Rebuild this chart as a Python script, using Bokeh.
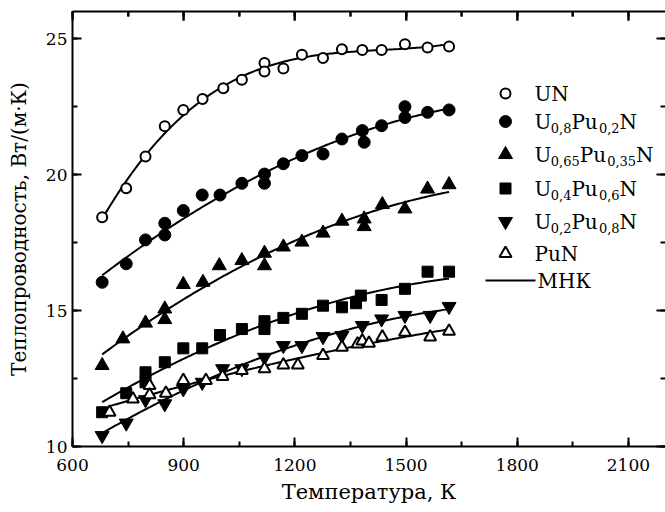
import numpy as np
from bokeh.plotting import figure
from bokeh.models import LinearAxis, SingleIntervalTicker, Range1d, ColumnDataSource, CustomJSTickFormatter
from bokeh.embed import file_html
from bokeh.resources import INLINE
from bokeh.core.properties import value

FONT = "DejaVu Serif"

# ---------------- data ----------------
UN_T = [680, 745, 797, 849, 899, 951, 1007, 1057, 1118, 1118, 1169, 1219, 1276, 1327, 1382, 1434, 1497, 1558, 1616]
UN_K = [18.43, 19.50, 20.67, 21.78, 22.38, 22.78, 23.18, 23.49, 24.11, 23.79, 23.90, 24.41, 24.29, 24.61, 24.58, 24.58, 24.80, 24.68, 24.71]

U08_T = [680, 745, 797, 849, 849, 899, 950, 998, 1057, 1118, 1118, 1169, 1219, 1276, 1327, 1382, 1387, 1434, 1497, 1497, 1558, 1616]
U08_K = [16.04, 16.72, 17.60, 18.21, 17.78, 18.68, 19.25, 19.25, 19.68, 20.02, 19.68, 20.40, 20.70, 20.76, 21.31, 21.62, 21.19, 21.80, 22.50, 22.10, 22.29, 22.38]

U065_T = [680, 736, 797, 849, 849, 899, 952, 996, 1057, 1118, 1118, 1169, 1219, 1276, 1327, 1387, 1387, 1436, 1497, 1558, 1616]
U065_K = [12.98, 13.96, 14.54, 15.06, 14.67, 15.96, 16.04, 16.65, 16.84, 17.11, 16.65, 17.34, 17.52, 17.85, 18.29, 18.37, 18.09, 18.90, 18.74, 19.47, 19.63]

U04_T = [680, 745, 797, 797, 849, 899, 950, 998, 1057, 1118, 1118, 1169, 1219, 1276, 1327, 1365, 1378, 1434, 1497, 1558, 1616]
U04_K = [11.26, 11.96, 12.73, 12.36, 13.10, 13.61, 13.61, 14.10, 14.32, 14.61, 14.32, 14.73, 14.88, 15.18, 15.12, 15.27, 15.55, 15.39, 15.80, 16.43, 16.43]

U02_T = [680, 745, 797, 849, 899, 950, 1005, 1057, 1118, 1169, 1219, 1276, 1327, 1382, 1434, 1497, 1565, 1616]
U02_K = [10.40, 10.86, 11.72, 11.57, 12.12, 12.36, 12.86, 12.86, 13.28, 13.71, 13.71, 14.04, 14.08, 14.45, 14.69, 14.82, 14.82, 15.15]

PUN_T = [700, 763, 808, 808, 852, 899, 960, 1005, 1057, 1118, 1169, 1208, 1276, 1327, 1369, 1382, 1400, 1436, 1497, 1565, 1616]
PUN_K = [11.26, 11.75, 12.24, 11.90, 11.96, 12.43, 12.43, 12.57, 12.79, 12.86, 13.00, 13.00, 13.35, 13.65, 13.77, 13.88, 13.80, 14.03, 14.20, 14.03, 14.24]

# legend labels: (text, is_subscript) pieces
LABEL_UN = [("UN", 0)]
LABEL_U08 = [("U", 0), ("0,8", 1), ("Pu", 0), ("0,2", 1), ("N", 0)]
LABEL_U065 = [("U", 0), ("0,65", 1), ("Pu", 0), ("0,35", 1), ("N", 0)]
LABEL_U04 = [("U", 0), ("0,4", 1), ("Pu", 0), ("0,6", 1), ("N", 0)]
LABEL_U02 = [("U", 0), ("0,2", 1), ("Pu", 0), ("0,8", 1), ("N", 0)]
LABEL_PUN = [("PuN", 0)]
LABEL_FIT = "МНК"

X_LABEL = "Температура, К"
Y_LABEL = "Теплопроводность, Вт/(м·К)"

# ---------------- layout constants ----------------
W, H = 665, 512
FL, FR, FT, FB = 72, 665, 11, 446
X0, X1, Y0, Y1 = 600, 2200, 10, 26
X_STEP, Y_STEP = 300, 5


def px2data(xp, yp):
    return (X0 + (xp - FL) * (X1 - X0) / (FR - FL),
            Y0 + (FB - yp) * (Y1 - Y0) / (FB - FT))


p = figure(width=W, height=H, x_range=Range1d(X0, X1), y_range=Range1d(Y0, Y1),
           output_backend="svg", toolbar_location=None,
           min_border_left=FL, min_border_right=0, min_border_top=FT,
           min_border_bottom=H - FB)
p.grid.visible = False
p.outline_line_color = None
p.background_fill_color = "white"
p.border_fill_color = "white"

bottom = p.below[0]
left = p.left[0]
xt = SingleIntervalTicker(interval=X_STEP, num_minor_ticks=2)
yt = SingleIntervalTicker(interval=Y_STEP, num_minor_ticks=2)
xt2 = SingleIntervalTicker(interval=X_STEP, num_minor_ticks=2)
yt2 = SingleIntervalTicker(interval=Y_STEP, num_minor_ticks=2)
bottom.ticker = xt
left.ticker = yt
top = LinearAxis(ticker=xt2, formatter=CustomJSTickFormatter(code="return ''"))
right = LinearAxis(ticker=yt2, formatter=CustomJSTickFormatter(code="return ''"))
p.add_layout(top, "above")
p.add_layout(right, "right")

for ax in [bottom, left, top, right]:
    ax.axis_line_width = 2
    ax.axis_line_color = "black"
    ax.major_tick_line_width = 2
    ax.minor_tick_line_width = 2
    ax.major_tick_line_color = "black"
    ax.minor_tick_line_color = "black"
    ax.major_tick_in = 9
    ax.major_tick_out = 0
    ax.minor_tick_in = 5
    ax.minor_tick_out = 0
    ax.major_label_text_font = FONT
    ax.major_label_text_font_size = "17px"
    ax.major_label_text_color = "black"
    ax.axis_label_text_font = FONT
    ax.axis_label_text_font_style = "normal"
    ax.axis_label_text_color = "black"

for ax in [top, right]:
    ax.major_label_standoff = 0
right.axis_line_color = None

bottom.major_label_standoff = 12
left.major_label_standoff = 5
bottom.axis_label = X_LABEL
left.axis_label = Y_LABEL
bottom.axis_label_text_font_size = "21px"
left.axis_label_text_font_size = "20px"
bottom.axis_label_standoff = 6
left.axis_label_standoff = 12

# inward tick marks along the top edge (the top axis hides its inward part)
y_per_px = (Y1 - Y0) / (FB - FT)
top_major = np.arange(X0, X1 + 1, X_STEP)
top_minor = np.arange(X0 + X_STEP / 2, X1, X_STEP)
p.segment(x0=top_major, y0=[Y1] * len(top_major), x1=top_major,
          y1=[Y1 - 9 * y_per_px] * len(top_major), line_color="black", line_width=2)
p.segment(x0=top_minor, y0=[Y1] * len(top_minor), x1=top_minor,
          y1=[Y1 - 5 * y_per_px] * len(top_minor), line_color="black", line_width=2)


def fit(T, K, deg):
    c = np.polyfit(T, K, deg)
    t = np.linspace(min(T), max(T), 200)
    return t, np.polyval(c, t)


series = [
    (UN_T, UN_K, 3, "circle", 10, "white", LABEL_UN),
    (U08_T, U08_K, 2, "circle", 12, "black", LABEL_U08),
    (U065_T, U065_K, 2, "triangle", 14, "black", LABEL_U065),
    (U04_T, U04_K, 2, "square", 11, "black", LABEL_U04),
    (U02_T, U02_K, 2, "inverted_triangle", 14, "black", LABEL_U02),
    (PUN_T, PUN_K, 2, "triangle", 12, "white", LABEL_PUN),
]

for T, K, deg, *_ in series:
    t, k = fit(T, K, deg)
    p.line(t, k, line_color="black", line_width=2)

for T, K, deg, marker, size, fill, _ in series:
    p.scatter(T, K, marker=marker, size=size, fill_color=fill,
              line_color="black", line_width=2 if fill == "white" else 1)

# ---------------- legend ----------------
CW = {"U": 812, "N": 837, "P": 734, "u": 641, ",": 318}
for d in "0123456789":
    CW[d] = 636


def tw(s, size):
    return sum(CW.get(c, 636) for c in s) * size / 1000.0


MAIN, SUB = 20, 13
ROWS_Y = [93, 121, 154, 188, 221, 253]
MARK_X, TEXT_X = 505, 534

main_src = dict(x=[], y=[], text=[], xo=[])
sub_src = dict(x=[], y=[], text=[], xo=[])
for (T, K, deg, marker, size, fill, label), ry in zip(series, ROWS_Y):
    mx, my = px2data(MARK_X, ry)
    p.scatter([mx], [my], marker=marker, size=size, fill_color=fill,
              line_color="black", line_width=2 if fill == "white" else 1)
    tx, ty = px2data(TEXT_X, ry)
    off = 0.0
    for s, is_sub in label:
        d = sub_src if is_sub else main_src
        d["x"].append(tx)
        d["y"].append(ty)
        d["text"].append(s)
        d["xo"].append(off)
        off += tw(s, SUB if is_sub else MAIN)

p.text(x="x", y="y", text="text", x_offset="xo", y_offset=0, source=ColumnDataSource(main_src),
       text_font=value(FONT), text_font_size=f"{MAIN}px", text_baseline="middle",
       text_align="left", text_color="black")
p.text(x="x", y="y", text="text", x_offset="xo", y_offset=6, source=ColumnDataSource(sub_src),
       text_font=value(FONT), text_font_size=f"{SUB}px", text_baseline="middle",
       text_align="left", text_color="black")

lx0, ly = px2data(485, 280)
lx1, _ = px2data(535, 280)
p.line([lx0, lx1], [ly, ly], line_color="black", line_width=2)
fx, fy = px2data(537, 280)
p.text(x=[fx], y=[fy], text=[LABEL_FIT], y_offset=0, text_font=value(FONT),
       text_font_size=f"{MAIN}px", text_baseline="middle", text_align="left",
       text_color="black")

open("out.html", "w").write(file_html(p, INLINE))
